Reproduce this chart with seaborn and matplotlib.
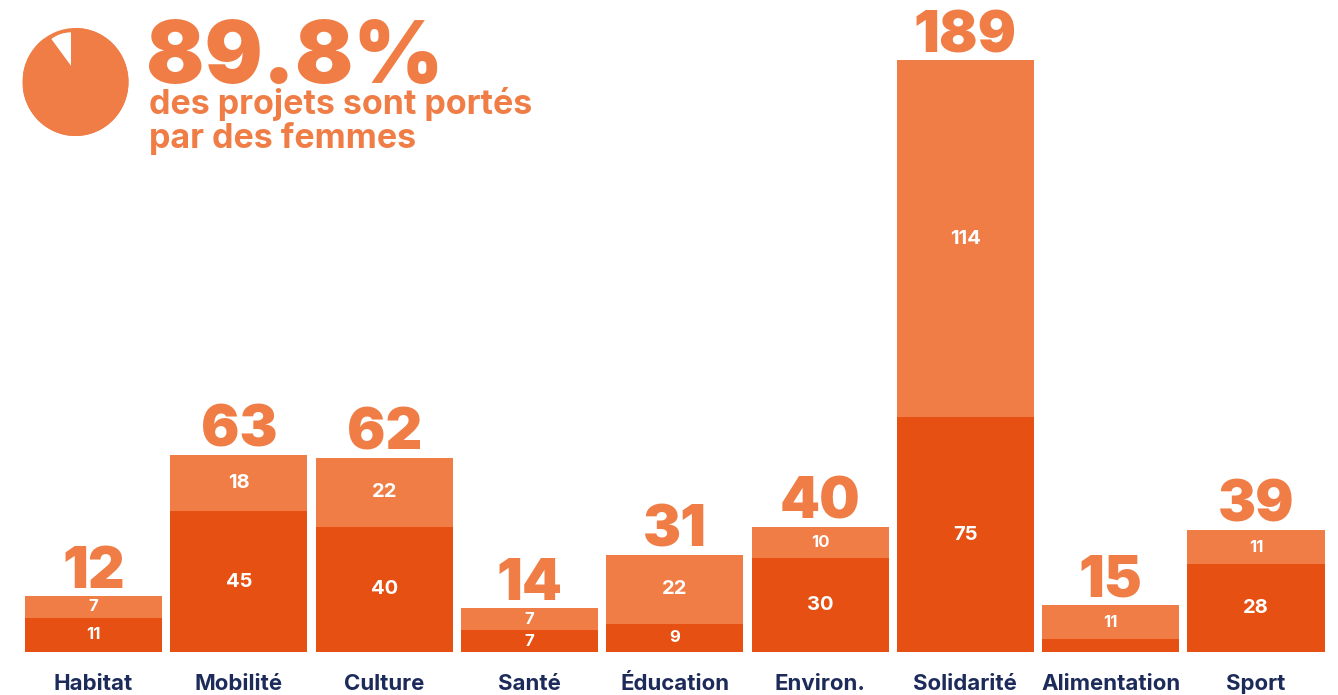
import numpy as np
import pandas as pd
import matplotlib
matplotlib.use("Agg")
import matplotlib.pyplot as plt
from matplotlib.patches import Circle
import seaborn as sns

sns.set_theme(style="white")
plt.rcParams["font.family"] = ["Inter", "DejaVu Sans"]

# ── data ───────────────────────────────────────────────────────────────
categories = ["Habitat", "Mobilité", "Culture", "Santé", "Éducation",
              "Environ.", "Solidarité", "Alimentation", "Sport"]
bottom_vals = [11, 45, 40, 7, 9, 30, 75, 4, 28]
top_vals = [7, 18, 22, 7, 22, 10, 114, 11, 11]
totals = [12, 63, 62, 14, 31, 40, 189, 15, 39]
bottom_labels = ["11", "45", "40", "7", "9", "30", "75", "", "28"]
top_labels = ["7", "18", "22", "7", "22", "10", "114", "11", "11"]
share_women = 89.8

DARK = "#E65012"
LIGHT = "#EF7D45"
NAVY = "#1C2B5A"

df = pd.DataFrame({
    "cat": categories,
    "bottom": bottom_vals,
    "stack": np.array(bottom_vals) + np.array(top_vals),
})

W, H = 1338, 695
fig = plt.figure(figsize=(W / 100, H / 100), dpi=100)
fig.patch.set_facecolor("white")

# main axes: baseline at y=652px, 9 slots of ~145px
ax = fig.add_axes([20.85 / W, (H - 652) / H, 1307.8 / W, 626 / H])
sns.barplot(data=df, x="cat", y="stack", color=LIGHT, saturation=1,
            width=0.943, errorbar=None, linewidth=0, ax=ax)
sns.barplot(data=df, x="cat", y="bottom", color=DARK, saturation=1,
            width=0.943, errorbar=None, linewidth=0, ax=ax)
ax.set_xlim(-0.5, len(categories) - 0.5)
ax.set_ylim(0, 200)
ax.set_xlabel("")
ax.set_ylabel("")
ax.set_yticks([])
for s in ax.spines.values():
    s.set_visible(False)
ax.tick_params(axis="x", length=0, pad=16)
ax.set_xticks(range(len(categories)))
ax.set_xticklabels(categories, fontsize=16, fontweight="bold", color=NAVY,
                   va="top")

for i in range(len(categories)):
    b, t = bottom_vals[i], top_vals[i]
    fs_b = 14.5 if b >= 20 else 12
    fs_t = 14.5 if t >= 15 else 12
    if bottom_labels[i]:
        ax.text(i, b / 2, bottom_labels[i], ha="center", va="center",
                color="white", fontsize=fs_b, fontweight="bold")
    ax.text(i, b + t / 2, top_labels[i], ha="center", va="center",
            color="white", fontsize=fs_t, fontweight="bold")
    ax.annotate(str(totals[i]), xy=(i, b + t), xytext=(0, 5.8),
                textcoords="offset points", ha="center", va="baseline",
                color=LIGHT, fontsize=41, fontweight="black")

# pie in the top-left corner
pax = fig.add_axes([22.5 / W, (H - 136) / H, 106 / W, 108 / H])
pax.add_patch(Circle((0, 0), 1, facecolor=LIGHT, edgecolor="none", zorder=0))
wedges, _ = pax.pie([100 - share_women, share_women],
                    colors=["white", LIGHT], startangle=90,
                    counterclock=True, radius=1,
                    wedgeprops={"linewidth": 0, "edgecolor": "none"})
wedges[0].set_radius(0.62)
wedges[0].set_center((-0.085, 0.30))
wedges[0].set_zorder(3)
pax.set_xlim(-1, 1)
pax.set_ylim(-1, 1)
pax.set_aspect("auto")
pax.axis("off")

fig.text(146 / W, 1 - 83 / H, f"{share_women}%", color=LIGHT,
         fontsize=62, fontweight="black", ha="left", va="baseline")
fig.text(149 / W, 1 - 114 / H, "des projets sont portés", color=LIGHT,
         fontsize=24.5, fontweight="bold", ha="left", va="baseline")
fig.text(149 / W, 1 - 148 / H, "par des femmes", color=LIGHT,
         fontsize=24.5, fontweight="bold", ha="left", va="baseline")

fig.savefig("out.png", dpi=100, facecolor="white")
